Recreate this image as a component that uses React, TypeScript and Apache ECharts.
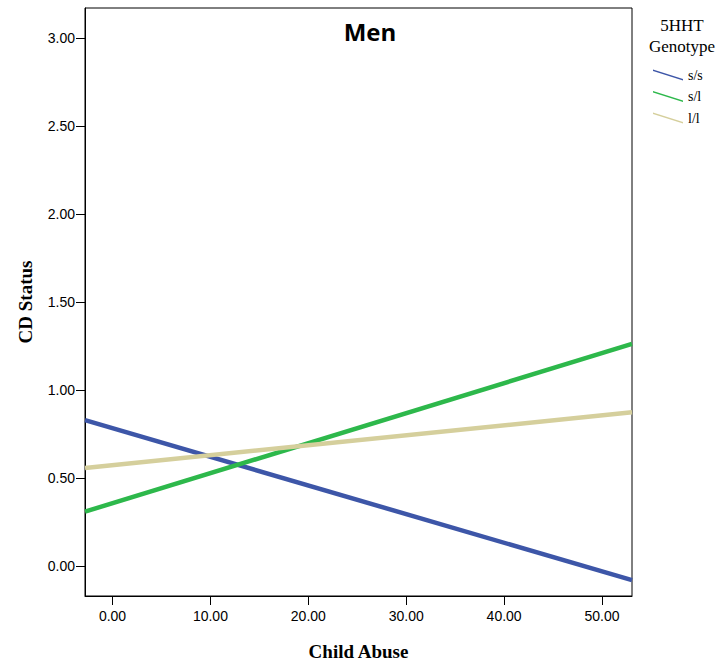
import React, { useEffect, useRef } from "react";
import * as echarts from "echarts";

const seriesNames = ["s/s", "s/l", "l/l"];
const seriesColors = ["#3D56A8", "#2DB84B", "#D5CF9C"];
// x-values of line endpoints (the axis limits)
const xEnds = [-2.81, 53.06];
const ssValues = [0.829, -0.079];
const slValues = [0.31, 1.262];
const llValues = [0.558, 0.874];
const xTicks = [0, 10, 20, 30, 40, 50];
const yTicks = [0, 0.5, 1, 1.5, 2, 2.5, 3];
const yRange = [-0.169, 3.169];

const serif = "'Liberation Serif', 'Times New Roman', serif";
const sans = "'Liberation Sans', Arial, sans-serif";

export default function App() {
  const ref = useRef<HTMLDivElement>(null);
  useEffect(() => {
    if (!ref.current) return;
    const chart = echarts.init(ref.current, undefined, { renderer: "svg" });
    const allValues = [ssValues, slValues, llValues];
    chart.setOption({
      animation: false,
      backgroundColor: "#ffffff",
      grid: {
        left: 85,
        right: 91,
        top: 8,
        bottom: 66,
        show: true,
        borderColor: "#000",
        borderWidth: 1,
        backgroundColor: "transparent",
      },
      legend: {
        orient: "vertical",
        left: 653,
        top: 68,
        padding: 0,
        itemWidth: 30,
        itemHeight: 11,
        itemGap: 7.5,
        icon: "path://M0,0 L30,9.5 L30,11 L0,1.5 Z",
        textStyle: { fontFamily: serif, fontSize: 14, color: "#000" },
        data: seriesNames,
      },
      graphic: [
        {
          type: "text",
          x: 370,
          y: 31,
          style: {
            text: "Men",
            fontFamily: "'Open Sans', sans-serif",
            fontWeight: "bold",
            fontSize: 24,
            fill: "#000",
            align: "center",
            verticalAlign: "middle",
          },
        },
        {
          type: "text",
          x: 682,
          y: 36,
          style: {
            text: "5HHT\nGenotype",
            fontFamily: serif,
            fontSize: 17,
            lineHeight: 21,
            fill: "#000",
            align: "center",
            verticalAlign: "middle",
          },
        },
      ],
      xAxis: {
        type: "value",
        min: xEnds[0],
        max: xEnds[1],
        name: "Child Abuse",
        nameLocation: "middle",
        nameGap: 46,
        nameTextStyle: { fontFamily: serif, fontWeight: "bold", fontSize: 19, color: "#000" },
        splitLine: { show: false },
        axisLine: { show: true, onZero: false, lineStyle: { color: "#000", width: 1 } },
        axisTick: { show: true, length: 9, lineStyle: { color: "#000" }, customValues: xTicks },
        axisLabel: {
          customValues: xTicks,
          margin: 13,
          fontFamily: sans,
          fontSize: 14,
          color: "#000",
          formatter: (v: number) => v.toFixed(2),
        },
      },
      yAxis: {
        type: "value",
        min: yRange[0],
        max: yRange[1],
        name: "CD Status",
        nameLocation: "middle",
        nameGap: 50,
        nameTextStyle: { fontFamily: serif, fontWeight: "bold", fontSize: 19, color: "#000" },
        splitLine: { show: false },
        axisLine: { show: true, onZero: false, lineStyle: { color: "#000", width: 1 } },
        axisTick: { show: true, length: 9, lineStyle: { color: "#000" }, customValues: yTicks },
        axisLabel: {
          customValues: yTicks,
          margin: 10,
          fontFamily: sans,
          fontSize: 14,
          color: "#000",
          formatter: (v: number) => v.toFixed(2),
        },
      },
      series: seriesNames.map((name, i) => ({
        name,
        type: "line",
        showSymbol: false,
        symbol: "none",
        color: seriesColors[i],
        lineStyle: { width: 4.5, color: seriesColors[i] },
        data: xEnds.map((x, j) => [x, allValues[i][j]]),
      })),
    });
    return () => chart.dispose();
  }, []);
  return (
    <div
      ref={ref}
      style={{ position: "fixed", left: 0, top: 0, width: 723, height: 666, background: "#fff" }}
    />
  );
}
